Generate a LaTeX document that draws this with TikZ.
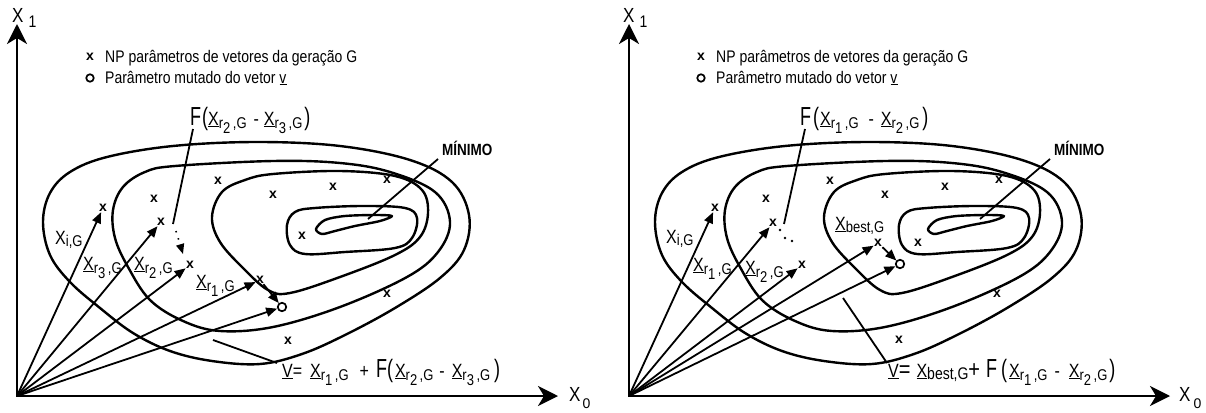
\documentclass[tikz,border=0pt]{standalone}
\usepackage{fontspec}
\setmainfont{Liberation Sans}
\usetikzlibrary{arrows.meta}
\newcommand{\tall}[1]{\scalebox{1}[1.2]{#1}}
\newcommand{\sbs}{\fontsize{13}{13}\selectfont}
\newcommand{\bigF}{\scalebox{1}[1.45]{\fontsize{18}{18}\selectfont F}}
\newcommand{\lpar}{\scalebox{1}[1.4]{\fontsize{18}{18}\selectfont (}}
\newcommand{\rpar}{\scalebox{1}[1.4]{\fontsize{18}{18}\selectfont )}}
\newcommand{\bigop}[1]{\scalebox{1}[1.2]{\fontsize{20}{20}\selectfont #1}}
\newcommand{\vecr}[1]{\underline{X}\raisebox{-3pt}{\sbs r\raisebox{-4pt}{#1}\hspace{2.5pt},G}}
\newcommand{\vecs}[1]{\underline{X}\raisebox{-2pt}{\sbs #1,G}}
\newcommand{\contourset}{%
  \draw[contour] plot[smooth cycle, tension=0.6] coordinates {(43,222) (50,255) (70,282) (100,308) (133,333) (170,351) (212,361) (260,364) (302,354) (345,335) (395,308) (440,278) (464,250) (469,215) (452,182) (410,160) (340,146) (257,142) (173,146) (107,157) (70,172) (50,193)};
  \draw[contour] plot[smooth cycle, tension=0.6] coordinates {(113,210) (123,187) (145,172) (175,166) (273,161) (340,163) (390,172) (435,192) (450,222) (438,252) (407,277) (340,307) (273,327) (220,331) (183,321) (150,300) (128,267) (115,238)};
  \draw[contour] plot[smooth cycle, tension=0.6] coordinates {(212,217) (222,192) (245,180) (273,174) (340,171) (395,176) (422,190) (428,213) (420,237) (395,255) (340,277) (290,293) (268,290) (243,268) (220,242)};
  \draw[contour] plot[smooth cycle, tension=0.6] coordinates {(287,225) (295,212) (315,208) (363,206) (405,208) (417,218) (412,238) (395,248) (345,252) (305,254) (290,245)};
  \draw[contour] plot[smooth cycle, tension=0.5] coordinates {(316,229) (325,220) (345,216) (375,215) (392,216) (380,221) (355,226) (335,231) (322,234)};
}
\tikzset{
  contour/.style={line width=2.4pt, line join=round},
  vec/.style={line width=1.8pt, -{Triangle[length=11pt,width=9pt]}},
  axis/.style={line width=2.6pt, line join=miter, {Stealth[length=20pt,width=20pt,inset=6pt]}-{Stealth[length=20pt,width=20pt,inset=6pt]}},
  xm/.style={font=\fontsize{14}{14}\selectfont\bfseries, inner sep=0.3pt},
  circ/.style={circle, draw, line width=1.7pt, minimum size=8.5pt, inner sep=0pt},
  lcirc/.style={circle, draw, line width=1.7pt, minimum size=7.5pt, inner sep=0pt},
  lead/.style={line width=1.8pt},
  lbl/.style={font=\fontsize{16}{18}\selectfont, inner sep=0pt, anchor=base west},
  leg/.style={font=\fontsize{14}{16}\selectfont, inner sep=0pt, anchor=base west},
  bold/.style={font=\fontsize{13.5}{16}\selectfont\bfseries, inner sep=0pt, anchor=base west},
  axl/.style={font=\fontsize{17}{19}\selectfont, inner sep=0pt, anchor=base west},
}
\begin{document}
\begin{tikzpicture}[x=1pt,y=-1pt]
\useasboundingbox (0,0) rectangle (1206,412);

% ================= LEFT PANEL =================
\coordinate (LO) at (17,396);
\coordinate (LY) at (17,24);
\coordinate (LX) at (558,396);
\draw[axis] (LY) -- (LO) -- (LX);
\node[axl] (LYl) at (12,23) {\tall{X\hspace{5pt}\raisebox{-4pt}{\fontsize{14}{14}\selectfont 1}}};
\node[axl] (LXl) at (569,401) {\tall{X}\hspace{2pt}\raisebox{-7pt}{\fontsize{14}{14}\selectfont 0}};

\node[xm] (Llx) at (90,57) {x};
\node[leg] (Llt1) at (105,63) {\tall{NP parâmetros de vetores da geração G}};
\node[lcirc] (Llc) at (90,78) {};
\node[leg] (Llt2) at (105,83) {\tall{Parâmetro mutado do vetor \underline{v}}};

\contourset

\node[xm] (Lxi) at (103,208) {x};
\node[xm] (Lr3) at (161,222) {x};
\node[xm] (Lr2) at (190,265) {x};
\node[xm] (Lr1) at (260,280) {x};
\node[circ] (Lv) at (282,307) {};
\node[xm] (La1) at (218,181) {x};
\node[xm] (La2) at (154,199) {x};
\node[xm] (La3) at (273,195) {x};
\node[xm] (La4) at (333,187) {x};
\node[xm] (La5) at (387,180) {x};
\node[xm] (La6) at (302,236) {x};
\node[xm] (La7) at (387,294) {x};
\node[xm] (La8) at (288,341) {x};

\draw[vec] (LO) -- (Lxi);
\draw[vec] (LO) -- (Lr3);
\draw[vec] (LO) -- (Lr2);
\draw[vec] (LO) -- (Lr1);
\draw[vec] (LO) -- (Lv);
\draw[vec] (Lr1) -- (Lv);

\node[lbl] (Llxi) at (55,244) {\tall{X\raisebox{-2pt}{\sbs i,G}}};
\node[lbl] (Llr3) at (83,270) {\tall{\vecr{3}}};
\node[lbl] (Llr2) at (134,270) {\tall{\vecr{2}}};
\node[lbl] (Llr1) at (196,288) {\tall{\vecr{1}}};

\node[lbl] (LF) at (190,125) {\bigF\hspace{1pt}\lpar\hspace{0pt}\tall{\vecr{2}\hspace{7pt}-\hspace{5pt}\vecr{3}}\hspace{2pt}\rpar};
\coordinate (LFa) at (193,129);
\coordinate (LFb) at (173,224);
\draw[lead] (LFa) -- (LFb);
\coordinate (LD1) at (176,231);
\coordinate (LD2) at (183,254);
\draw[line width=1.6pt, dash pattern=on 1.5pt off 6pt, -{Triangle[length=10pt,width=8pt]}] (LD1) -- (LD2);

\node[bold] (LM) at (442,155) {\tall{MÍNIMO}};
\coordinate (LMa) at (438,159);
\coordinate (LMb) at (368,219);
\draw[lead] (LMa) -- (LMb);

\coordinate (LVa) at (213,340);
\coordinate (LVb) at (277,363);
\draw[lead] (LVa) -- (LVb);
\node[lbl] (LV) at (282,377) {\tall{\underline{V}=\hspace{8pt}\vecr{1}\hspace{11pt}+\hspace{7pt}}\bigF\lpar\hspace{2pt}\tall{\vecr{2}\hspace{6pt}-\hspace{7pt}\vecr{3}}\hspace{4pt}\rpar};

% ================= RIGHT PANEL =================
\coordinate (RO) at (629,396);
\coordinate (RY) at (629,24);
\coordinate (RX) at (1170,396);
\draw[axis] (RY) -- (RO) -- (RX);
\node[axl] (RYl) at (623,23) {\tall{X\hspace{5pt}\raisebox{-4pt}{\fontsize{14}{14}\selectfont 1}}};
\node[axl] (RXl) at (1179,401) {\tall{X}\hspace{3pt}\raisebox{-7pt}{\fontsize{14}{14}\selectfont 0}};

\node[xm] (Rlx) at (701,57) {x};
\node[leg] (Rlt1) at (716,63) {\tall{NP parâmetros de vetores da geração G}};
\node[lcirc] (Rlc) at (701,78) {};
\node[leg] (Rlt2) at (716,83) {\tall{Parâmetro mutado do vetor \underline{v}}};

\begin{scope}[xshift=612pt]
\contourset
\end{scope}

\node[xm] (Rxi) at (715,208) {x};
\node[xm] (Rr1) at (773,223) {x};
\node[xm] (Rr2) at (802,265) {x};
\node[xm] (Rb) at (878,243) {x};
\node[circ] (Rv) at (900,264) {};
\node[xm] (Ra1) at (830,181) {x};
\node[xm] (Ra2) at (766,199) {x};
\node[xm] (Ra3) at (885,195) {x};
\node[xm] (Ra4) at (945,187) {x};
\node[xm] (Ra5) at (999,180) {x};
\node[xm] (Ra6) at (918,243) {x};
\node[xm] (Ra7) at (997,294) {x};
\node[xm] (Ra8) at (899,340) {x};

\draw[vec] (RO) -- (Rxi);
\draw[vec] (RO) -- (Rr1);
\draw[vec] (RO) -- (Rr2);
\draw[vec] (RO) -- (Rb);
\draw[vec] (RO) -- (Rv);
\draw[vec] (Rb) -- (Rv);

\node[lbl] (Rlxi) at (666,243) {\tall{X\raisebox{-2pt}{\sbs i,G}}};
\node[lbl] (Rlr1) at (693,271) {\tall{\vecr{1}}};
\node[lbl] (Rlr2) at (745,274) {\tall{\vecr{2}}};
\node[lbl] (Rlb) at (835,230) {\tall{\vecs{best}}};

\node[lbl] (RF) at (800,125) {\bigF\hspace{2pt}\lpar\hspace{1pt}\tall{\vecr{1}\hspace{10pt}-\hspace{7pt}\vecr{2}}\hspace{3pt}\rpar};
\coordinate (RFa) at (805,129);
\coordinate (RFb) at (784,224);
\draw[lead] (RFa) -- (RFb);
\node[circle, fill, inner sep=0.9pt] (Rd1) at (780,230) {};
\node[circle, fill, inner sep=0.9pt] (Rd2) at (785,238) {};
\node[circle, fill, inner sep=0.9pt] (Rd3) at (792,241) {};

\node[bold] (RM) at (1054,155) {\tall{MÍNIMO}};
\coordinate (RMa) at (1050,159);
\coordinate (RMb) at (980,219);
\draw[lead] (RMa) -- (RMb);

\coordinate (RVa) at (843,298);
\coordinate (RVb) at (887,363);
\draw[lead] (RVa) -- (RVb);
\node[lbl] (RV) at (888,377) {\tall{\underline{V}}\bigop{=}\hspace{6pt}\tall{\underline{X}\raisebox{-2pt}{\fontsize{14}{14}\selectfont best,G}}\bigop{+}\hspace{6pt}\bigF\hspace{4pt}\lpar\hspace{2pt}\tall{\vecr{1}\hspace{7pt}-\hspace{9pt}\vecr{2}}\hspace{2pt}\rpar};
\end{tikzpicture}
\end{document}
